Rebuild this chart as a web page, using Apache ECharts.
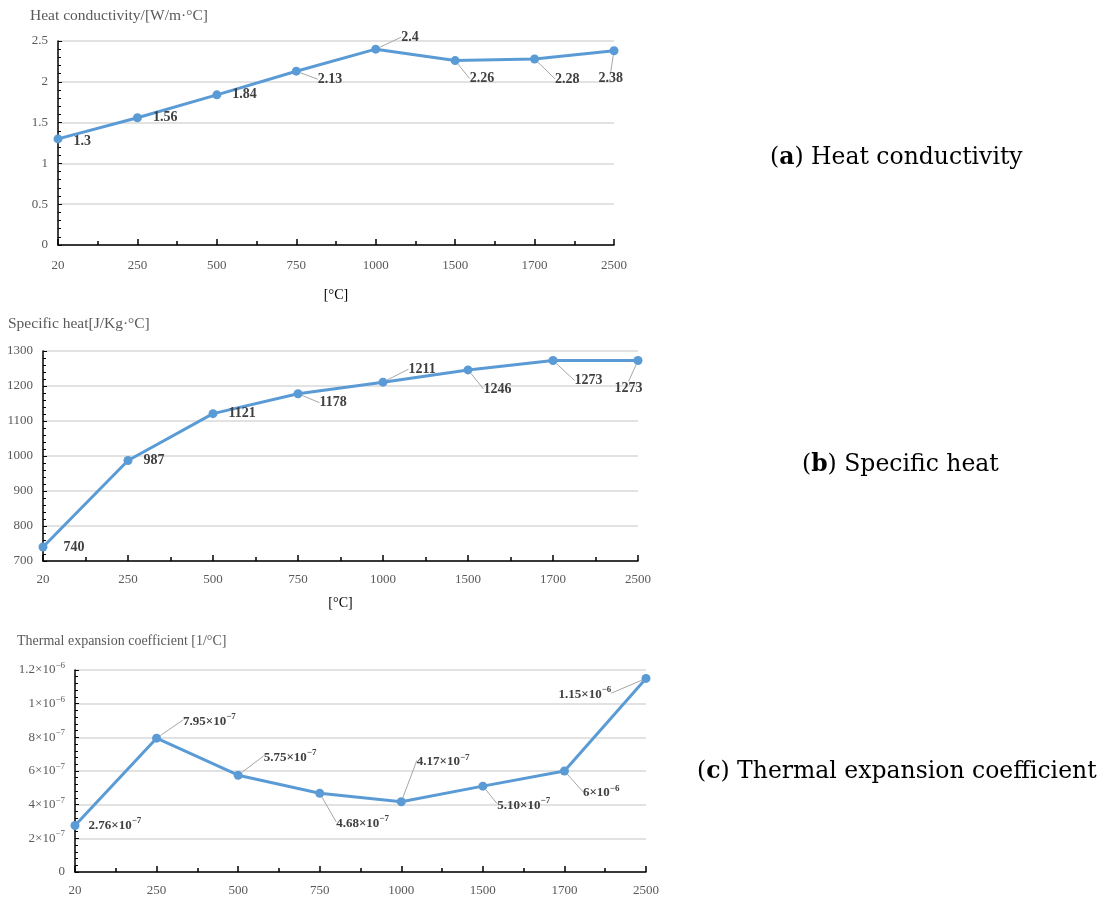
<!DOCTYPE html>
<html>
<head>
<meta charset="utf-8">
<script src="https://cdn.jsdelivr.net/npm/echarts@6/dist/echarts.min.js"></script>
<style>
html, body { margin: 0; padding: 0; background: #fff; }
#main { width: 1108px; height: 897px; }
</style>
</head>
<body>
<div id="main"></div>
<script>
// temperatures on the x axis (same for the three plots)
var temps = ['20', '250', '500', '750', '1000', '1500', '1700', '2500'];
var conductivity = [1.3, 1.56, 1.84, 2.13, 2.4, 2.26, 2.28, 2.38];
var specificHeat = [740, 987, 1121, 1178, 1211, 1246, 1273, 1273];
var expansion = [2.76e-7, 7.95e-7, 5.75e-7, 4.68e-7, 4.17e-7, 5.10e-7, 6e-7, 1.15e-6];
// printed labels of the expansion plot (the 1700 one says 10^-6 in the source)
var expansionMant = ['2.76', '7.95', '5.75', '4.68', '4.17', '5.10', '6', '1.15'];
var expansionPow = ['−7', '−7', '−7', '−7', '−7', '−7', '−6', '−6'];

// label shifts [dx, dy, leader line]
var offA = [[0, 2, 0], [0, 0, 0], [0, 0, 0], [6, 8, 1], [10, -12, 1], [-1, 18, 1], [5, 20, 1], [-31, 28, 1]];
var offB = [[5, 0, 0], [0, 0, 0], [0, 0, 0], [6, 9, 1], [10, -13, 1], [0, 19, 1], [6, 20, 1], [-39, 28, 1]];
var offC = [[-2, 0, 0], [11, -17, 1], [10, -18, 1], [1, 30, 1], [0, -40, 1], [-1, 19, 1], [3, 22, 1], [-103, 16, 1]];

var FONT = '"Liberation Serif", "Times New Roman", serif';
var CAP_FONT = '"DejaVu Serif", serif';
var GREY = '#595959';
var BLUE = '#5b9bd5';

function supNum(v) {
	if (v === 0) return '0';
	var e = Math.floor(Math.log10(v) + 1e-9);
	var m = +(v / Math.pow(10, e)).toFixed(2);
	return '{m|' + m + '×10}{s|−' + (-e) + '}';
}

function plainNum(v) {
	return String(+v.toFixed(2));
}

function makeX(idx, margin, name, gap) {
	return {
		type: 'value', gridIndex: idx, min: 0, max: temps.length - 1, interval: 1,
		axisLine: { show: true, lineStyle: { color: '#000', width: 1.5 } },
		axisTick: { show: true, inside: true, length: 6, lineStyle: { color: '#000', width: 1.5 } },
		minorTick: { show: true, splitNumber: 2, length: 4, lineStyle: { color: '#000', width: 1.5 } },
		splitLine: { show: false },
		axisLabel: {
			margin: margin, color: GREY, fontFamily: FONT, fontSize: 13,
			formatter: function (v) { return temps[v]; }
		},
		name: name, nameLocation: 'middle', nameGap: gap,
		nameTextStyle: { color: '#000', fontFamily: FONT, fontSize: 14 }
	};
}

function makeY(idx, min, max, interval, fmt) {
	var ax = {
		type: 'value', gridIndex: idx, min: min, max: max, interval: interval,
		axisLine: { show: true, lineStyle: { color: '#000', width: 1.5 } },
		axisTick: { show: true, inside: true, length: 4, lineStyle: { color: '#000' } },
		minorTick: { show: true, splitNumber: 5, length: 3, lineStyle: { color: '#000' } },
		splitLine: { show: true, lineStyle: { color: '#d9d9d9', width: 1.5 } },
		axisLabel: { margin: 10, color: GREY, fontFamily: FONT, fontSize: 13, formatter: fmt || plainNum }
	};
	if (fmt) {
		ax.axisLabel.rich = {
			m: { color: GREY, fontFamily: FONT, fontSize: 13 },
			s: { color: GREY, fontFamily: FONT, fontSize: 9, padding: [0, 0, 9, 0] }
		};
	}
	return ax;
}

function makeSeries(idx, values, off, size, fmt, rich) {
	return {
		type: 'line', xAxisIndex: idx, yAxisIndex: idx,
		data: values.map(function (v, i) {
			return { value: [i, v], labelLine: { show: !!off[i][2] } };
		}),
		symbol: 'circle', symbolSize: 9,
		lineStyle: { color: BLUE, width: 3 },
		itemStyle: { color: BLUE },
		label: {
			show: true, position: 'right', distance: 11,
			color: '#404040', fontWeight: 'bold', fontFamily: FONT, fontSize: size,
			formatter: fmt, rich: rich
		},
		labelLayout: function (p) {
			var o = off[p.dataIndex];
			return { dx: o[0], dy: o[1] };
		},
		labelLine: { lineStyle: { color: '#a6a6a6', width: 1 } },
		animation: false
	};
}

function caption(letter, text, x, y) {
	return {
		type: 'text', left: x, top: y,
		style: {
			text: '{n|(}{b|' + letter + '}{n|) ' + text + '}',
			rich: {
				n: { fontFamily: CAP_FONT, fontSize: 23.5, fill: '#000' },
				b: { fontFamily: CAP_FONT, fontSize: 23.5, fontWeight: 'bold', fill: '#000' }
			}
		}
	};
}

var chart = echarts.init(document.getElementById('main'));
chart.setOption({
	animation: false,
	grid: [
		{ left: 58, top: 41, width: 556, height: 204 },
		{ left: 43, top: 351, width: 595, height: 210 },
		{ left: 75, top: 670, width: 571, height: 202 }
	],
	xAxis: [
		makeX(0, 14, '[°C]', 43),
		makeX(1, 12, '[°C]', 35),
		makeX(2, 12, '', 30)
	],
	yAxis: [
		makeY(0, 0, 2.5, 0.5),
		makeY(1, 700, 1300, 100),
		makeY(2, 0, 1.2e-6, 2e-7, supNum)
	],
	series: [
		makeSeries(0, conductivity, offA, 14, function (p) { return String(p.value[1]); }),
		makeSeries(1, specificHeat, offB, 14, function (p) { return String(p.value[1]); }),
		makeSeries(2, expansion, offC, 13, function (p) {
			return '{m|' + expansionMant[p.dataIndex] + '×10}{s|' + expansionPow[p.dataIndex] + '}';
		}, {
			m: { color: '#404040', fontWeight: 'bold', fontFamily: FONT, fontSize: 13 },
			s: { color: '#404040', fontWeight: 'bold', fontFamily: FONT, fontSize: 9, padding: [0, 0, 9, 0] }
		})
	],
	graphic: [
		{ type: 'text', left: 30, top: 8, style: { text: 'Heat conductivity/[W/m·°C]', font: '15.5px ' + FONT, fill: GREY } },
		{ type: 'text', left: 8, top: 316, style: { text: 'Specific heat[J/Kg·°C]', font: '15.5px ' + FONT, fill: GREY } },
		{ type: 'text', left: 17, top: 634, style: { text: 'Thermal expansion coefficient [1/°C]', font: '14px ' + FONT, fill: GREY } },
		caption('a', 'Heat conductivity', 770, 146),
		caption('b', 'Specific heat', 802, 453),
		caption('c', 'Thermal expansion coefficient', 697, 760)
	]
});
</script>
</body>
</html>
